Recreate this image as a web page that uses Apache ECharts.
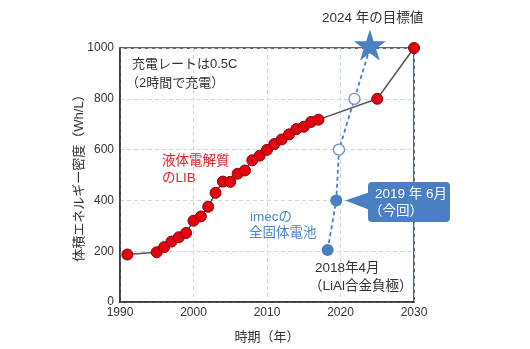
<!DOCTYPE html>
<html><head><meta charset="utf-8">
<script src="https://cdn.jsdelivr.net/npm/echarts@6/dist/echarts.min.js"></script>
<style>html,body{margin:0;padding:0;background:#fff}#chart{width:530px;height:349px}</style>
</head><body><div id="chart"></div>
<script>
// Liquid-electrolyte Li-ion cells: year and volumetric energy density (Wh/L)
const libYears = [1991,1995,1996,1997,1998,1999,2000,2001,2002,2003,2004,2005,2006,2007,2008,2009,2010,2011,2012,2013,2014,2015,2016,2017,2025,2030];
const libValues = [187,196,216,238,255,272,320,337,375,430,474,473,505,518,558,576,599,622,640,660,681,690,709,718,800,1000];

// imec solid-state cell: measured points, projections and the 2024 target
const ssYears = [2018.25, 2019.42, 2019.8, 2021.9, 2024];
const ssValues = [205, 400, 600, 800, 1000];
const ssKinds = ['measured', 'measured', 'projected', 'projected', 'target'];

// Axis ticks
const xTicks = [1990, 2000, 2010, 2020, 2030];
const yTicks = [0, 200, 400, 600, 800, 1000];

const FONT = "'Liberation Sans','Noto Sans CJK JP',sans-serif";
const BLUE = '#4a7fc3';
const RED = '#e50012';
const INK = '#333333';
const GRID = '#c9d6e6';
const STAR = 'path://M50,0 L61.2,34.5 L97.6,34.5 L68.2,55.9 L79.4,90.5 L50,69.1 L20.6,90.5 L31.8,55.9 L2.4,34.5 L38.8,34.5 Z';

const chart = echarts.init(document.getElementById('chart'), null, { renderer: 'canvas' });

const ssData = ssYears.map((x, i) => {
  const kind = ssKinds[i];
  if (kind === 'target') {
    return { value: [x, ssValues[i]], symbol: STAR, symbolSize: [32, 31], symbolOffset: [0, -3],
      itemStyle: { color: BLUE, borderWidth: 0 } };
  }
  if (kind === 'projected') {
    return { value: [x, ssValues[i]], symbol: 'circle', symbolSize: 11,
      itemStyle: { color: '#ffffff', borderColor: '#6f8fbf', borderWidth: 1.3 } };
  }
  return { value: [x, ssValues[i]], symbol: 'circle', symbolSize: 12,
    itemStyle: { color: BLUE, borderColor: BLUE, borderWidth: 0 } };
});

const axisLabel = { color: INK, fontSize: 12, fontFamily: FONT, formatter: v => String(v) };

chart.setOption({
  animation: false,
  backgroundColor: '#ffffff',
  grid: { left: 120, right: 116, top: 48, bottom: 46, containLabel: false,
    show: true, borderColor: INK, borderWidth: 1.5, backgroundColor: 'transparent' },
  xAxis: {
    type: 'value', min: xTicks[0], max: xTicks[xTicks.length - 1], interval: xTicks[1] - xTicks[0],
    name: '時期（年）', nameLocation: 'middle', nameGap: 29,
    nameTextStyle: { color: INK, fontSize: 13, fontFamily: FONT },
    axisLine: { show: true, lineStyle: { color: INK, width: 1.5 } },
    axisTick: { show: false },
    axisLabel: Object.assign({ margin: 5, showMinLabel: true, showMaxLabel: true, hideOverlap: false }, axisLabel),
    splitLine: { show: true, lineStyle: { color: GRID, type: [4, 3], width: 1 } }
  },
  yAxis: {
    type: 'value', min: yTicks[0], max: yTicks[yTicks.length - 1], interval: yTicks[1] - yTicks[0],
    name: '体積エネルギー密度（Wh/L）', nameLocation: 'middle', nameGap: 34, nameRotate: 90,
    nameMoveOverlap: false,
    nameTextStyle: { color: INK, fontSize: 13, fontFamily: FONT },
    axisLine: { show: true, lineStyle: { color: INK, width: 1.5 } },
    axisTick: { show: false },
    axisLabel: Object.assign({ margin: 6, showMinLabel: true, showMaxLabel: true, hideOverlap: false }, axisLabel),
    splitLine: { show: true, lineStyle: { color: GRID, type: [4, 3], width: 1 } }
  },
  series: [
    {
      name: '液体電解質のLIB', type: 'line', clip: false, z: 3,
      data: libYears.map((x, i) => [x, libValues[i]]),
      symbol: 'circle', symbolSize: 11, showAllSymbol: true,
      lineStyle: { color: '#555555', width: 1.5 },
      itemStyle: { color: RED, borderColor: '#7a0a0a', borderWidth: 1 }
    },
    {
      name: 'imecの全固体電池', type: 'line', clip: false, z: 4,
      data: ssData, showAllSymbol: true,
      lineStyle: { color: BLUE, width: 1.8, type: [4, 3] }
    }
  ]
});

// Annotations, placed relative to the plotted points where they point at one
const tip = chart.convertToPixel({ gridIndex: 0 }, [ssYears[1], ssValues[1]]);
const txt = (x, y, text, fill, size) => ({
  type: 'text', x: x, y: y, z: 10,
  style: { text: text, fill: fill, font: (size || 13) + 'px ' + FONT, textVerticalAlign: 'middle' }
});
const boxX = 368, boxY = 182, boxW = 82, boxH = 40;
chart.setOption({
  graphic: [
    txt(132, 64, '充電レートは0.5C', INK),
    txt(126, 83, '（2時間で充電）', INK),
    txt(162, 161, '液体電解質', '#e0252b', 13.5),
    txt(162, 178, 'のLIB', '#e0252b', 13.5),
    txt(250, 217, 'imecの', '#4a86c8', 13.5),
    txt(249, 233, '全固体電池', '#4a86c8', 13.5),
    txt(322, 18, '2024 年の目標値', INK, 13.5),
    txt(315, 268, '2018年4月', INK, 13.5),
    txt(309, 286, '（LiAl合金負極）', INK, 13.5),
    { type: 'polygon', z: 9, shape: { points: [[tip[0] + 9, tip[1]], [boxX + 2, boxY + 10], [boxX + 2, boxY + 28]] },
      style: { fill: BLUE } },
    { type: 'rect', z: 9, shape: { x: boxX, y: boxY, width: boxW, height: boxH, r: 4 }, style: { fill: BLUE } },
    txt(boxX + 7, boxY + 12, '2019 年 6月', '#ffffff', 13.5),
    txt(boxX + 1, boxY + 29, '（今回）', '#ffffff', 13.5)
  ]
});
</script>
</body></html>
